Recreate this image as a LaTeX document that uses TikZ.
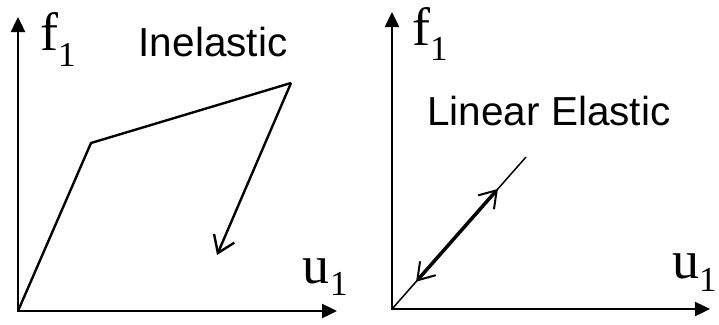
\documentclass[tikz,border=0pt]{standalone}
\usepackage{fontspec}
\setmainfont{Liberation Serif}
\newfontfamily\labelfont{Liberation Sans}
\usetikzlibrary{arrows.meta,calc}
\newcommand{\subone}[1]{\raisebox{-#1pt}{\fontsize{35}{35}\selectfont 1}}
\begin{document}
\begin{tikzpicture}[x=1pt,y=-1pt,
  axis/.style={line width=2.4pt,line cap=rect,-{Triangle[length=15pt,width=14pt]}},
  curve/.style={line width=2.4pt,line join=round},
  serif/.style={font=\fontsize{54}{54}\selectfont,inner sep=0pt,anchor=base west},
  lab/.style={font=\labelfont\fontsize{40.5}{40.5}\selectfont,inner sep=0pt,anchor=base}]
\useasboundingbox (0,0) rectangle (719,324);
% left panel
\coordinate (O1) at (18,311);
\coordinate (Y1) at (18,17);
\coordinate (X1) at (337,311);
\coordinate (A) at (91,143);
\coordinate (B) at (291,83);
\coordinate (C) at (217,255);
\draw[axis] (O1) -- (Y1);
\draw[axis] (O1) -- (X1);
\draw[curve] (O1) -- (A) -- (B);
\draw[curve,-{Straight Barb[length=16pt,width=22pt]}] (B) -- (C);
\node[serif] (f1) at (40,50) {f\subone{16}};
\node[serif] (u1) at (302,283) {u\kern1pt\subone{12}};
\node[lab] (inel) at (213,56) {Inelastic};
% right panel
\coordinate (O2) at (392,309);
\coordinate (Y2) at (392,12);
\coordinate (X2) at (710,309);
\coordinate (E) at (526,157);
\coordinate (P) at ($(O2)!0.18!(E)$);
\coordinate (Q) at ($(O2)!0.79!(E)$);
\draw[axis] (O2) -- (Y2);
\draw[axis] (O2) -- (X2);
\draw[line width=1.5pt] (O2) -- (E);
\draw[line width=3.5pt,{Straight Barb[length=16pt,width=21pt,line width=2pt]}-{Straight Barb[length=16pt,width=21pt,line width=2pt]}] (P) -- (Q);
\node[serif] (f2) at (412,45) {f\subone{15}};
\node[serif] (u2) at (672,278) {u\subone{13}};
\node[lab] (lin) at (549,125) {Linear Elastic};
\end{tikzpicture}
\end{document}
